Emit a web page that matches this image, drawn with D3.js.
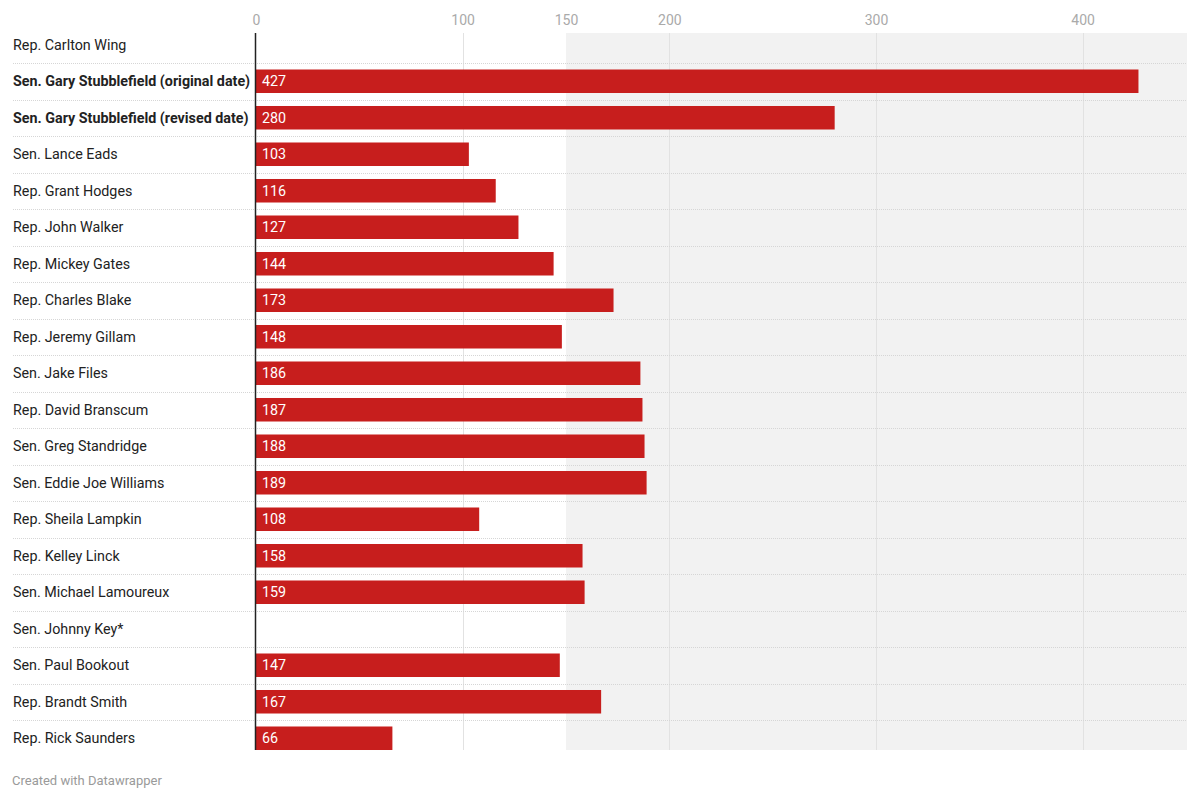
<!DOCTYPE html>
<html><head><meta charset="utf-8">
<script src="https://cdn.jsdelivr.net/npm/d3@7"></script>
<style>
body{margin:0;background:#fff;font-family:Roboto,"Noto Sans",sans-serif;}
</style></head>
<body><svg id="c" width="1200" height="800"></svg>
<script>
const names = ["Rep. Carlton Wing","Sen. Gary Stubblefield (original date)","Sen. Gary Stubblefield (revised date)","Sen. Lance Eads","Rep. Grant Hodges","Rep. John Walker","Rep. Mickey Gates","Rep. Charles Blake","Rep. Jeremy Gillam","Sen. Jake Files","Rep. David Branscum","Sen. Greg Standridge","Sen. Eddie Joe Williams","Rep. Sheila Lampkin","Rep. Kelley Linck","Sen. Michael Lamoureux","Sen. Johnny Key*","Sen. Paul Bookout","Rep. Brandt Smith","Rep. Rick Saunders"];
const values = [null,427,280,103,116,127,144,173,148,186,187,188,189,108,158,159,null,147,167,66];
const boldRows = ["Sen. Gary Stubblefield (original date)","Sen. Gary Stubblefield (revised date)"];
const tickValues = [0,100,150,200,300,400];
const gridValues = [100,200,300,400];
const shadeFrom = 150;

const svg = d3.select("#c");
const x = d3.scaleLinear().domain([0,450]).range([256,1186]);
const right = 1187, plotTop = 33, plotBottom = 750;
const y = d3.scaleBand().domain(names).range([26.5,756.5]).padding(0);
const bw = y.bandwidth();

// shaded region
svg.append("rect").attr("x",x(shadeFrom)).attr("y",plotTop)
  .attr("width",right-x(shadeFrom)).attr("height",plotBottom-plotTop).attr("fill","#f2f2f2");

// grid
svg.selectAll(".grid").data(gridValues).enter().append("line")
  .attr("x1",d=>Math.round(x(d))+0.5).attr("x2",d=>Math.round(x(d))+0.5)
  .attr("y1",plotTop).attr("y2",plotBottom).attr("stroke","#e2e2e2").attr("stroke-width",1);

// row separators
svg.selectAll(".sep").data(names.slice(1)).enter().append("line")
  .attr("x1",13).attr("x2",right)
  .attr("y1",d=>Math.round(y(d))+0.5).attr("y2",d=>Math.round(y(d))+0.5)
  .attr("stroke","#d6d6d6").attr("stroke-width",1).attr("stroke-dasharray","1,1");

// axis labels
const axis = d3.axisTop(x).tickValues(tickValues).tickSize(0).tickPadding(0);
const ag = svg.append("g").attr("transform","translate(0,25)").call(axis);
ag.select(".domain").remove();
ag.selectAll("text").attr("fill","#aaaaaa").style("font-size","14px").style("font-family","Roboto");

const data = names.map((n,i)=>({name:n,value:values[i]}));

// bars
svg.selectAll(".bar").data(data.filter(d=>d.value!=null)).enter().append("rect")
  .attr("x",x(0)).attr("y",d=>y(d.name)+bw*0.178).attr("height",bw*0.644)
  .attr("width",d=>x(d.value)-x(0)).attr("fill","#c71e1d");

// value labels
svg.selectAll(".val").data(data.filter(d=>d.value!=null)).enter().append("text")
  .attr("x",x(0)+6).attr("y",d=>y(d.name)+bw/2).attr("dy","0.35em")
  .attr("fill","#fff").style("font-size","14.3px").text(d=>d.value);

// row labels
svg.selectAll(".lab").data(data).enter().append("text")
  .attr("x",13).attr("y",d=>y(d.name)+bw/2).attr("dy","0.35em")
  .attr("fill","#222").style("font-size","14.3px")
  .style("font-weight",d=>boldRows.includes(d.name)?"bold":"normal")
  .text(d=>d.name);

// zero line
svg.append("line").attr("x1",x(0)-0.5).attr("x2",x(0)-0.5).attr("y1",plotTop).attr("y2",plotBottom)
  .attr("stroke","#222").attr("stroke-width",1.5);

// footer
svg.append("text").attr("x",12).attr("y",785).attr("fill","#9a9a9a")
  .style("font-size","13px").text("Created with Datawrapper");
</script></body></html>
